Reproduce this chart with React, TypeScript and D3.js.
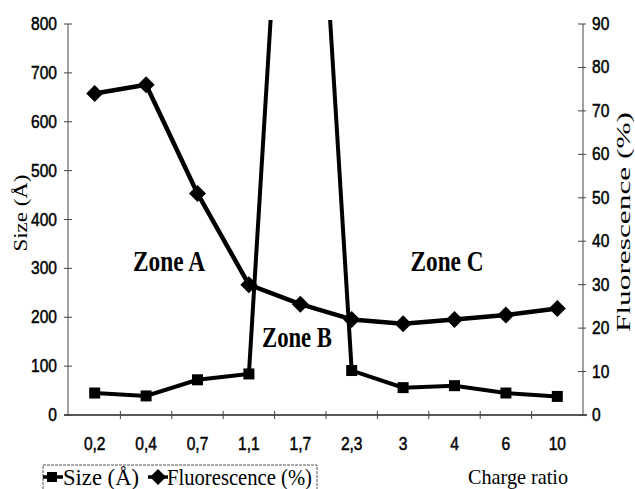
import React, { useEffect, useRef } from 'react';
import * as d3 from 'd3';

// charge ratio categories
const categories = ['0,2', '0,4', '0,7', '1,1', '1,7', '2,3', '3', '4', '6', '10'];
// particle size (Å), left axis; the 1,7 point is far off the top of the chart
const sizeValues = [45, 39, 72, 84, 1800, 91, 56, 60, 45, 38];
// fluorescence (%), right axis
const fluorescenceValues = [74, 76, 51, 30, 25.5, 22, 21, 22, 23, 24.5];
const leftTicks = [0, 100, 200, 300, 400, 500, 600, 700, 800];
const rightTicks = [0, 10, 20, 30, 40, 50, 60, 70, 80, 90];

const W = 635;
const H = 489;
const sans = '"Liberation Sans", Arial, sans-serif';
const serif = '"Liberation Serif", "Times New Roman", serif';

export default function App() {
  const svgRef = useRef<SVGSVGElement>(null);

  useEffect(() => {
    const svg = d3.select(svgRef.current);
    svg.selectAll('*').remove();

    const x = d3.scaleBand().domain(categories).range([69, 583]).padding(0);
    const yL = d3.scaleLinear().domain([0, 800]).range([415, 24]);
    const yR = d3.scaleLinear().domain([0, 90]).range([415, 24]);
    const cx = (c: string) => (x(c) as number) + x.bandwidth() / 2;

    svg.append('defs').append('clipPath').attr('id', 'plotclip')
      .append('rect').attr('x', 0).attr('y', 20).attr('width', W).attr('height', H);

    // narrow tick label (the original uses a condensed sans face)
    const tickLabel = (sel: any, anchor: string) =>
      sel.attr('text-anchor', anchor).attr('font-family', sans).attr('font-size', 19)
        .attr('fill', '#000').attr('stroke', '#000').attr('stroke-width', 0.5);

    // axes
    const axisColor = '#444';
    svg.append('line').attr('x1', 68).attr('x2', 68).attr('y1', 24).attr('y2', 415)
      .attr('stroke', axisColor).attr('stroke-width', 1);
    svg.append('line').attr('x1', 583).attr('x2', 583).attr('y1', 24).attr('y2', 415)
      .attr('stroke', axisColor).attr('stroke-width', 1);
    svg.append('line').attr('x1', 64).attr('x2', 587).attr('y1', 415).attr('y2', 415)
      .attr('stroke', '#222').attr('stroke-width', 1.3);

    svg.selectAll('.lt').data(leftTicks).enter().append('line')
      .attr('x1', 64).attr('x2', 72).attr('y1', d => yL(d)).attr('y2', d => yL(d))
      .attr('stroke', axisColor);
    tickLabel(svg.selectAll('.ltl').data(leftTicks).enter().append('text')
      .attr('transform', d => `translate(57,${yL(d) + 6}) scale(0.82,1)`), 'end')
      .text(d => d);

    svg.selectAll('.rt').data(rightTicks).enter().append('line')
      .attr('x1', 578).attr('x2', 586).attr('y1', d => yR(d)).attr('y2', d => yR(d))
      .attr('stroke', axisColor);
    tickLabel(svg.selectAll('.rtl').data(rightTicks).enter().append('text')
      .attr('transform', d => `translate(592,${yR(d) + 6}) scale(0.82,1)`), 'start')
      .text(d => d);

    // x ticks at band boundaries
    const bounds = categories.slice(1).map(c => x(c) as number);
    svg.selectAll('.xt').data(bounds).enter().append('line')
      .attr('x1', d => d).attr('x2', d => d).attr('y1', 411).attr('y2', 419)
      .attr('stroke', axisColor);
    tickLabel(svg.selectAll('.xtl').data(categories).enter().append('text')
      .attr('transform', d => `translate(${cx(d)},450) scale(0.82,1)`), 'middle')
      .text(d => d);

    // axis titles
    svg.append('text')
      .attr('transform', 'translate(27,213) rotate(-90)')
      .attr('text-anchor', 'middle').attr('font-family', serif).attr('font-size', 18)
      .attr('textLength', 77).attr('lengthAdjust', 'spacingAndGlyphs')
      .text('Size (Å)');
    svg.append('text')
      .attr('transform', 'translate(630,222) rotate(-90)')
      .attr('text-anchor', 'middle').attr('font-family', serif).attr('font-size', 18)
      .attr('textLength', 220).attr('lengthAdjust', 'spacingAndGlyphs')
      .text('Fluorescence (%)');

    // series
    const plot = svg.append('g').attr('clip-path', 'url(#plotclip)');
    const sizeLine = d3.line<number>().x((_, i) => cx(categories[i])).y(d => yL(d));
    const fluoLine = d3.line<number>().x((_, i) => cx(categories[i])).y(d => yR(d));

    plot.append('path').attr('d', fluoLine(fluorescenceValues)).attr('fill', 'none')
      .attr('stroke', '#000').attr('stroke-width', 4.5).attr('stroke-linejoin', 'round');
    plot.append('path').attr('d', sizeLine(sizeValues)).attr('fill', 'none')
      .attr('stroke', '#000').attr('stroke-width', 4).attr('stroke-linejoin', 'miter');

    const diamond = (px: number, py: number, r: number) =>
      `M${px},${py - r}L${px + r},${py}L${px},${py + r}L${px - r},${py}Z`;

    plot.selectAll('.fd').data(fluorescenceValues).enter().append('path')
      .attr('d', (d, i) => diamond(cx(categories[i]), yR(d), 8.5))
      .attr('fill', '#000');
    plot.selectAll('.sq').data(sizeValues).enter().append('rect')
      .attr('x', (_, i) => cx(categories[i]) - 5.5).attr('y', d => yL(d) - 5.5)
      .attr('width', 11).attr('height', 11).attr('fill', '#000');

    // zone labels
    const zones = [
      { t: 'Zone A', x: 169, y: 271, w: 72 },
      { t: 'Zone B', x: 297, y: 347, w: 70 },
      { t: 'Zone C', x: 447, y: 271, w: 73 },
    ];
    svg.selectAll('.zone').data(zones).enter().append('text')
      .attr('x', d => d.x).attr('y', d => d.y).attr('text-anchor', 'middle')
      .attr('font-family', serif).attr('font-weight', 'bold').attr('font-size', 30)
      .attr('textLength', d => d.w).attr('lengthAdjust', 'spacingAndGlyphs')
      .text(d => d.t);

    // legend
    svg.append('rect').attr('x', 43).attr('y', 465).attr('width', 274).attr('height', 40)
      .attr('fill', 'none').attr('stroke', '#555').attr('stroke-width', 1)
      .attr('stroke-dasharray', '3,1');
    svg.append('line').attr('x1', 43).attr('x2', 63).attr('y1', 477).attr('y2', 477)
      .attr('stroke', '#000').attr('stroke-width', 3.5);
    svg.append('rect').attr('x', 47).attr('y', 472).attr('width', 10).attr('height', 10).attr('fill', '#000');
    svg.append('text').attr('x', 63).attr('y', 485).attr('font-family', serif).attr('font-size', 24)
      .attr('textLength', 76).attr('lengthAdjust', 'spacingAndGlyphs').text('Size (Å)');
    svg.append('line').attr('x1', 148).attr('x2', 168).attr('y1', 477).attr('y2', 477)
      .attr('stroke', '#000').attr('stroke-width', 3.5);
    svg.append('path').attr('d', diamond(158, 477, 8)).attr('fill', '#000');
    svg.append('text').attr('x', 167).attr('y', 485).attr('font-family', serif).attr('font-size', 24)
      .attr('textLength', 145).attr('lengthAdjust', 'spacingAndGlyphs').text('Fluorescence (%)');

    svg.append('text').attr('x', 518).attr('y', 484).attr('text-anchor', 'middle')
      .attr('font-family', serif).attr('font-size', 22)
      .attr('textLength', 100).attr('lengthAdjust', 'spacingAndGlyphs').text('Charge ratio');
  }, []);

  return (
    <svg
      ref={svgRef}
      width={W}
      height={H}
      style={{ position: 'absolute', left: 0, top: 0, background: '#fff' }}
    />
  );
}
